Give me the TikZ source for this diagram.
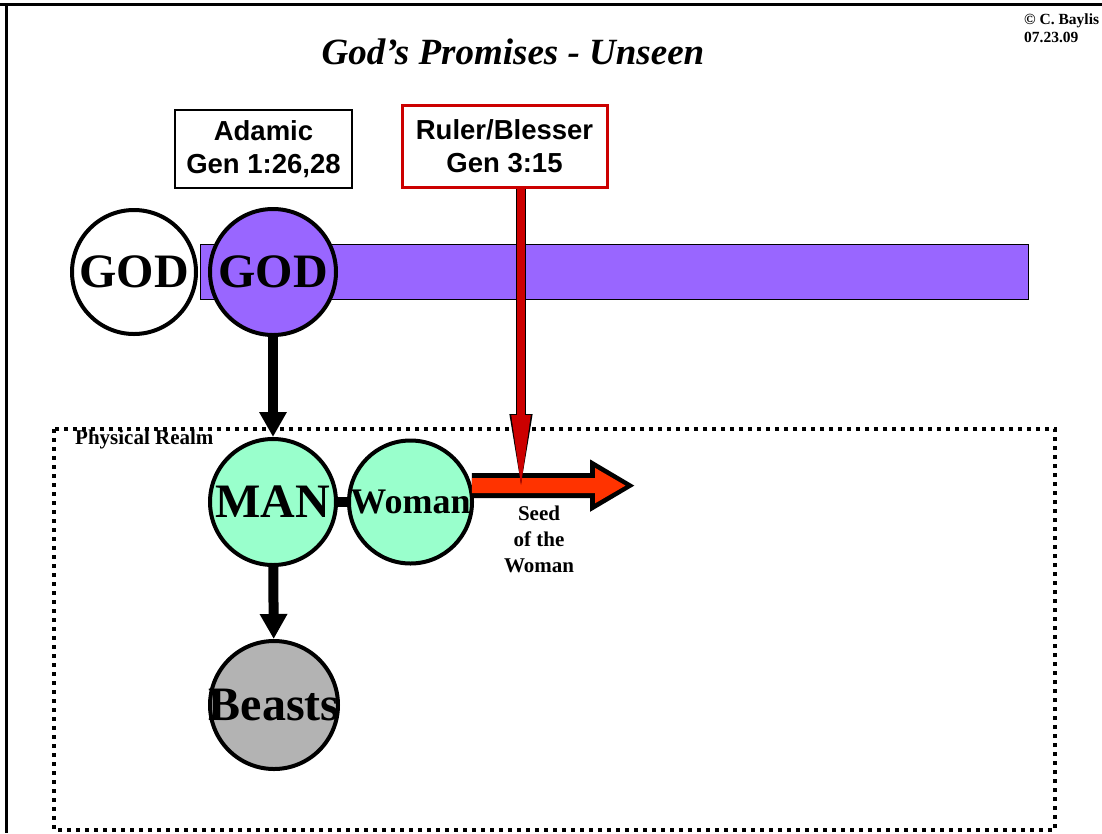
\documentclass[tikz,border=0pt]{standalone}
\usepackage{fontspec}
\setmainfont{Liberation Serif}
\setsansfont{Liberation Sans}
\usepackage{xcolor}
\usepackage{tikz}
\usetikzlibrary{arrows.meta}
\definecolor{godpurple}{HTML}{9966FF}
\definecolor{mint}{HTML}{99FFCC}
\definecolor{beastgray}{HTML}{B3B3B3}
\definecolor{seedorange}{HTML}{FF3300}
\definecolor{promisered}{HTML}{CC0000}
\tikzstyle{realm node}=[shape=circle, draw=black, line width=4pt, inner sep=0pt, minimum size=126pt, font=\fontsize{48}{48}\selectfont\bfseries]
\tikzstyle{promise box}=[shape=rectangle, draw=black, line width=1.2pt, fill=white, inner sep=0pt, align=center, font=\fontsize{27.5}{33}\selectfont\sffamily\bfseries]
\tikzstyle{bar}=[shape=rectangle, draw=black, line width=1pt, fill=godpurple, inner sep=0pt, minimum width=828pt, minimum height=55pt]
\tikzstyle{label}=[inner sep=0pt, font=\bfseries]
\tikzstyle{down edge}=[-{Triangle[length=25pt,width=26pt]}, draw=black, line width=10pt]
\tikzstyle{bond edge}=[-, draw=black, line width=10pt]
\tikzstyle{seed outline}=[-{Triangle[length=45pt,width=49pt]}, draw=black, line width=25pt]
\tikzstyle{seed edge}=[-{Triangle[length=31pt,width=33pt]}, draw=seedorange, line width=15pt, shorten >=9pt]
\tikzstyle{promise outline}=[-{Triangle[length=80pt,width=20pt]}, draw=black, line width=10pt]
\tikzstyle{promise edge}=[-{Triangle[length=78pt,width=17pt]}, draw=promisered, line width=8pt, shorten >=1pt]
\pgfdeclarelayer{nodelayer}
\pgfdeclarelayer{edgelayer}
\pgfsetlayers{main,nodelayer,edgelayer}

\begin{document}
\begin{tikzpicture}[x=1pt, y=-1pt]
	\useasboundingbox (0,0) rectangle (1102,833);
	% frame and realm
	\draw [line width=3pt] (0,4) -- (1102,4);
	\draw [line width=3pt] (6,4) -- (6,833);
	\draw [line width=4pt, dash pattern=on 4pt off 5pt] (54,429) rectangle (1055,830);
	\begin{pgfonlayer}{nodelayer}
		\node [style=bar] (2) at (614,271.5) {};
		\node [style=realm node, fill=white, minimum size=124pt] (0) at (134,272) {GOD};
		\node [style=realm node, fill=godpurple] (1) at (273,272) {GOD};
		\node [style=promise box, minimum width=177pt, minimum height=78pt] (3) at (263.5,149) {Adamic\\Gen 1:26,28};
		\node [style=promise box, draw=promisered, line width=3pt, minimum width=205pt, minimum height=82pt] (4) at (504.5,146) {Ruler/Blesser\\Gen 3:15};
		\node [style=realm node, fill=mint] (5) at (273,502) {MAN};
		\node [style=realm node, fill=mint, minimum size=123pt, font=\fontsize{36}{36}\selectfont\bfseries] (6) at (410.5,502) {Woman};
		\node [style=realm node, fill=beastgray, minimum size=128pt] (7) at (274,705) {\makebox[0pt]{Beasts}};
		\node [style=label, anchor=base, font=\fontsize{37}{37}\selectfont\bfseries\itshape] (8) at (513,64) {God's Promises - Unseen};
		\node [style=label, anchor=north west, align=left, font=\fontsize{15.5}{18}\selectfont\bfseries] (9) at (1024,14) {\textcopyright{} C. Baylis\\07.23.09};
		\node [style=label, anchor=base west, font=\fontsize{21}{21}\selectfont\bfseries] (10) at (75,444) {Physical Realm};
		\node [style=label, anchor=north, align=center, font=\fontsize{21}{26}\selectfont\bfseries] (11) at (539,506) {Seed\\of the\\Woman};
		\coordinate (12) at (635,485.6);
		\coordinate (13) at (521,494);
	\end{pgfonlayer}
	\begin{pgfonlayer}{edgelayer}
		\draw [style=down edge] (1) to (5);
		\draw [style=down edge] (5) to (7);
		\draw [style=bond edge] (5) to (6);
		\draw [style=seed outline] (6.15) to (12);
		\draw [style=seed edge] (6.15) to (12);
		\draw [style=promise outline] (4.south -| 13) to (13);
		\draw [style=promise edge] (4.south -| 13) to (13);
	\end{pgfonlayer}
\end{tikzpicture}
\end{document}
